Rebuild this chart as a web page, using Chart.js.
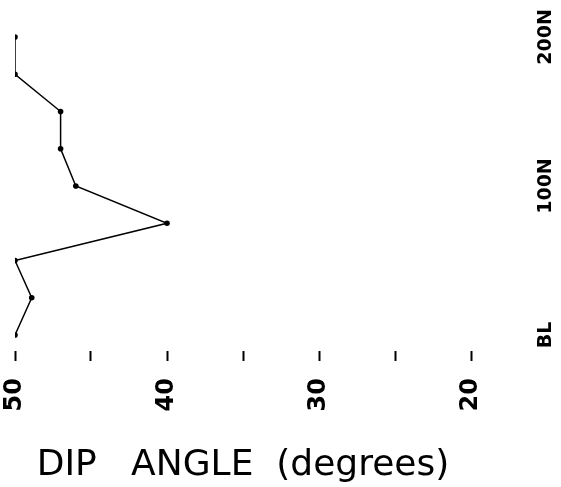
<!DOCTYPE html>
<html>
<head>
<meta charset="utf-8">
<script src="https://cdn.jsdelivr.net/npm/chart.js@4/dist/chart.umd.min.js"></script>
<style>
  html, body { margin: 0; padding: 0; background: #fff; }
  #wrap { width: 561px; height: 487px; }
</style>
</head>
<body>
<div id="wrap"><canvas id="c" width="561" height="487"></canvas></div>
<script>
// Station positions along the line (feet north of baseline)
const stations = [0, 25, 50, 75, 100, 125, 150, 175, 200];
// Measured dip angle at each station (degrees)
const dipAngles = [50, 48.9, 50, 40, 46, 47, 47, 50, 50];
// Labelled stations on the right-hand axis
const stationTicks = [0, 100, 200];
const stationLabels = ['BL', '100N', '200N'];
// Dip angle axis labels
const dipTickValues = [50, 40, 30, 20];

const points = stations.map((s, i) => ({ x: dipAngles[i], y: s }));

Chart.defaults.color = '#000';
Chart.defaults.font.family = "'DejaVu Sans', sans-serif";

const yMin = -10.7, yMax = 218.1;

new Chart(document.getElementById('c'), {
  type: 'scatter',
  data: {
    datasets: [{
      data: points,
      showLine: true,
      borderColor: '#000',
      borderWidth: 1.5,
      pointRadius: 2.8,
      pointBackgroundColor: '#000',
      pointBorderColor: '#000',
      pointBorderWidth: 0
    }]
  },
  options: {
    responsive: false,
    animation: false,
    devicePixelRatio: 1,
    layout: { padding: { left: 15, top: 10, right: 0, bottom: 0 } },
    plugins: { legend: { display: false }, tooltip: { enabled: false } },
    scales: {
      x: {
        type: 'linear',
        reverse: true,
        min: 20,
        max: 50,
        border: { display: false },
        grid: {
          display: true,
          drawOnChartArea: false,
          drawTicks: true,
          tickLength: 10,
          tickWidth: 2,
          tickColor: '#000'
        },
        ticks: {
          stepSize: 5,
          autoSkip: false,
          minRotation: 90,
          maxRotation: 90,
          padding: 17,
          font: { size: 24, weight: 'bold' },
          callback: (v) => dipTickValues.includes(v) ? String(v) : ''
        },
        title: {
          display: true,
          text: 'DIP   ANGLE  (degrees)',
          font: { size: 36, weight: 'normal' },
          padding: { top: 0, bottom: 0 }
        },
        afterFit: (s) => { s.height = 136; s.paddingLeft = 0; s.paddingRight = 0; }
      },
      y: {
        type: 'linear',
        display: false,
        min: yMin,
        max: yMax
      },
      y2: {
        type: 'linear',
        position: 'right',
        min: yMin,
        max: yMax,
        border: { display: false },
        grid: { display: false },
        afterBuildTicks: (s) => { s.ticks = stationTicks.map(v => ({ value: v })); },
        ticks: {
          autoSkip: false,
          minRotation: 90,
          maxRotation: 90,
          crossAlign: 'center',
          padding: 39,
          font: { size: 19, weight: 'bold' },
          callback: (v) => stationLabels[stationTicks.indexOf(v)]
        },
        afterFit: (s) => { s.width = 90; s.paddingTop = 0; s.paddingBottom = 0; }
      }
    }
  }
});
</script>
</body>
</html>
